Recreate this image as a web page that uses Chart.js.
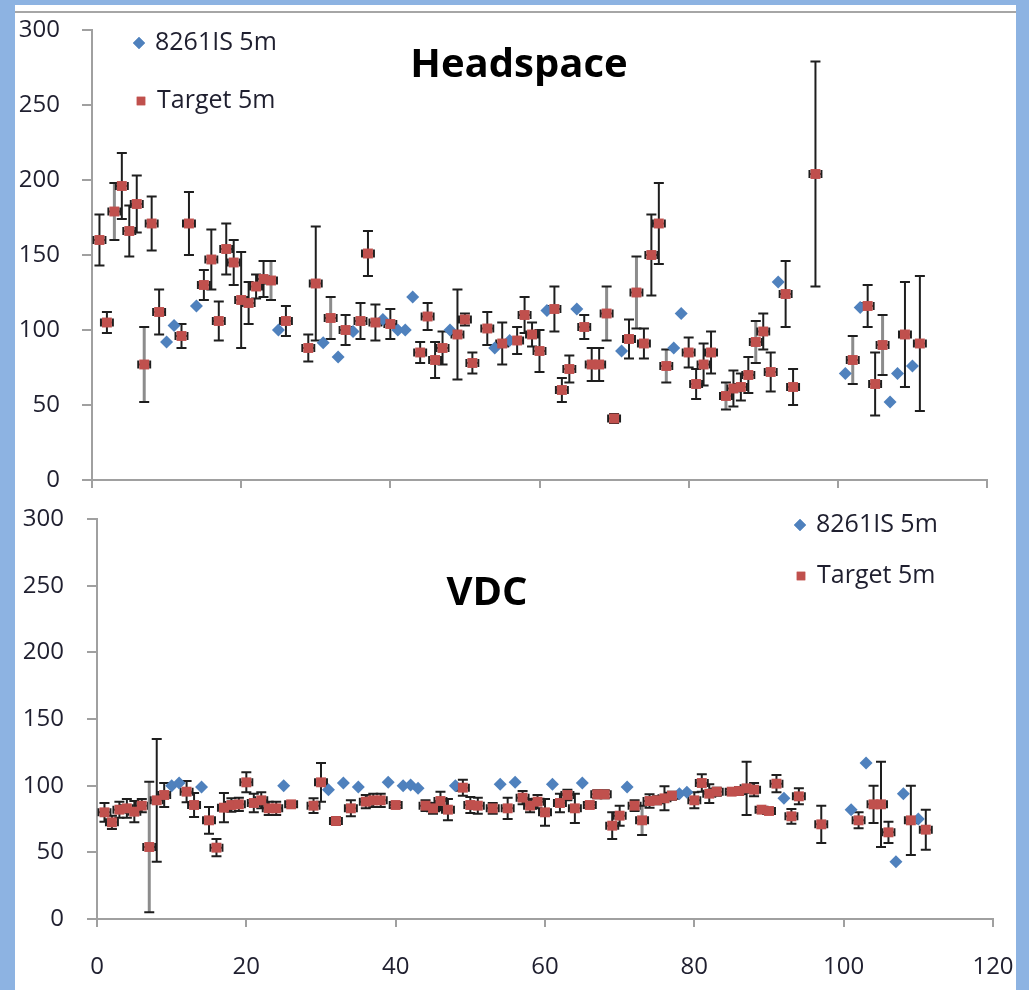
<!DOCTYPE html>
<html>
<head>
<meta charset="utf-8">
<script src="https://cdn.jsdelivr.net/npm/chart.js@4.4.0/dist/chart.umd.min.js"></script>
<style>
  html, body { margin: 0; padding: 0; background: #8db3e2; }
  #sheet { position: absolute; left: 15px; top: 5px; width: 1001px; height: 985px; background: #fff; }
  #rule { position: absolute; left: 15px; top: 11px; width: 1001px; height: 2px; background: #a6a6a6; }
  canvas { position: absolute; left: 0; }
</style>
</head>
<body>
<div id="sheet"></div>
<div id="rule"></div>
<canvas id="headspace" width="1029" height="500" style="top:0"></canvas>
<canvas id="vdc" width="1029" height="490" style="top:500px"></canvas>
<script>
// sample numbers (x) shared by both panels
const targetX = [1,2,3,4,5,6,7,8,9,12,13,15,16,17,18,19,20,21,22,23,24,26,29,30,32,34,36,37,38,40,
  44,45,46,47,49,50,51,53,55,57,58,59,60,62,63,64,66,67,68,69,70,72,73,74,75,76,77,80,81,82,83,
  85,86,87,88,89,90,91,93,94,97,102,104,105,106,109,111];
const isX = [10,11,14,25,31,33,35,39,41,42,43,48,54,56,61,65,71,78,79,92,101,103,107,108,110];

// Headspace
const hsTarget = [160,105,179,196,166,184,77,171,112,96,171,130,147,106,154,145,120,118,129,134,
  133,106,88,131,108,100,106,151,105,104,85,109,80,88,97,107,78,101,91,93,110,97,86,114,60,74,
  102,77,77,111,41,94,125,91,150,171,76,85,64,77,85,56,61,62,70,92,99,72,124,62,204,80,116,64,90,97,91];
const hsTargetErr = [17,7,19,22,17,19,25,18,15,8,21,10,20,13,17,15,32,14,8,12,13,10,9,38,14,10,12,
  15,12,10,7,9,12,11,30,4,7,11,14,9,12,8,14,15,8,9,8,11,11,18,3,13,24,10,27,27,11,10,10,14,14,9,
  12,9,12,14,12,13,22,12,75,16,14,21,20,35,45];
const hsIS = [92,103,116,100,91.5,82,99,107,100,100,122,100,88,93,113,114,86,88,111,132,71,115,52,71,76];

// VDC
const vdcTarget = [80,72.5,82,83,80.5,85,54,89,93,95.5,85.5,74,53.5,83.5,85.5,86,102.5,87,89,83,
  83,86,85,102.5,73.5,83,88,89,89,85.5,85,83,88.5,82,98.5,85.5,85,83,83,91,85,88,80,87,93,83,
  85.5,93.5,93.5,70,77.5,85,74,88.5,89,90.5,92.5,89,102,94,95.5,95.5,96,98,97,82,81,101.5,77,92,
  71,74,86,86,65,74,67];
const vdcTargetErr = [7,5,6,7,8,5,49,46,9,8,9,10,6.5,11,5,5,7.5,7,6,5,5,2,5.5,14.5,3,6,5,5,5,2,
  4,4,7,8,6,6,6,4,8,5,5,5,10,7,4,11,2,3,3,10,7.5,4,11,5,3,9,3,6,6.5,7,3,2,3,20,5,2,2,6.5,5.5,6,
  14,6,14,32,8,26,15];
const vdcIS = [100,102,99,100,97,102,99,102.5,100,100.5,98,100,101,102.5,101,102,99,94,95,90.5,82,117,43,94,75];

const xTicks = [0, 20, 40, 60, 80, 100, 120];
const yTicks = [0, 50, 100, 150, 200, 250, 300];

// samples whose vertical bar shows as the grey one
const hsGrey = [3,7,24,32,69,73,77,85,89,102,106];
const vdcGrey = [7,73];

const RED = '#c0504d';
const BLUE = '#4f81bd';
const AXIS = '#a0a0a0';
const FONT = "'Open Sans', sans-serif";

const errorBars = {
  id: 'errorBars',
  beforeDatasetsDraw(chart, args, opts) {
    const ctx = chart.ctx, xs = chart.scales.x, ys = chart.scales.y;
    chart.data.datasets.forEach(ds => {
      if (!ds.yErr) return;
      ds.data.forEach((p, i) => {
        const px = xs.getPixelForValue(p.x);
        const py = ys.getPixelForValue(p.y);
        const top = ys.getPixelForValue(p.y + ds.yErr[i]);
        const bot = ys.getPixelForValue(Math.max(0, p.y - ds.yErr[i]));
        const l = xs.getPixelForValue(p.x - opts.xErr);
        const r = xs.getPixelForValue(p.x + opts.xErr);
        ctx.save();
        // vertical shaft
        ctx.beginPath();
        ctx.strokeStyle = ds.greyAt.includes(p.x) ? '#8c8c8c' : '#1e1e1e';
        ctx.lineWidth = ds.greyAt.includes(p.x) ? 3 : 2;
        ctx.moveTo(px, top); ctx.lineTo(px, bot);
        ctx.stroke();
        ctx.beginPath();
        ctx.strokeStyle = '#1e1e1e';
        ctx.lineWidth = 2;
        ctx.moveTo(px - 5, top); ctx.lineTo(px + 5, top);
        ctx.moveTo(px - 5, bot); ctx.lineTo(px + 5, bot);
        // horizontal bar
        ctx.moveTo(l, py); ctx.lineTo(r, py);
        ctx.moveTo(l, py - 4); ctx.lineTo(l, py + 4);
        ctx.moveTo(r, py - 4); ctx.lineTo(r, py + 4);
        ctx.stroke();
        ctx.restore();
      });
    });
  }
};

const panelText = {
  id: 'panelText',
  afterDraw(chart, args, opts) {
    const ctx = chart.ctx;
    ctx.save();
    ctx.fillStyle = '#000';
    ctx.font = 'bold 40px ' + FONT;
    ctx.textAlign = 'center';
    ctx.textBaseline = 'alphabetic';
    ctx.fillText(opts.title, opts.titleX, opts.titleY);
    // legend
    ctx.font = '25px ' + FONT;
    ctx.textAlign = 'left';
    ctx.textBaseline = 'middle';
    opts.legend.forEach(item => {
      const ds = chart.data.datasets[item.index];
      ctx.fillStyle = ds.backgroundColor;
      Chart.helpers.drawPoint(ctx, { pointStyle: ds.pointStyle, radius: item.r, borderWidth: 0 }, item.x, item.y);
      ctx.fill();
      ctx.fillStyle = '#1f1f2f';
      ctx.fillText(ds.label, item.x + 16, item.y);
    });
    ctx.restore();
  }
};

function makePanel(id, isY, targetY, targetErr, greyAt, geo) {
  return new Chart(document.getElementById(id), {
    type: 'scatter',
    data: {
      datasets: [
        {
          label: '8261IS 5m',
          data: isX.map((x, i) => ({ x: x, y: isY[i] })),
          pointStyle: 'rectRot',
          pointRadius: 6.5,
          backgroundColor: BLUE,
          borderWidth: 0,
          order: 1
        },
        {
          label: 'Target 5m',
          data: targetX.map((x, i) => ({ x: x, y: targetY[i] })),
          yErr: targetErr,
          greyAt: greyAt,
          pointStyle: 'rect',
          pointRadius: 7,
          backgroundColor: RED,
          borderWidth: 0,
          order: 0
        }
      ]
    },
    options: {
      responsive: false,
      animation: false,
      events: [],
      layout: { padding: { left: 0, right: geo.padRight, top: geo.padTop, bottom: 0 } },
      plugins: {
        legend: { display: false },
        tooltip: { enabled: false },
        errorBars: { xErr: 0.8 },
        panelText: geo.text
      },
      scales: {
        x: {
          type: 'linear',
          min: 0, max: 120,
          afterBuildTicks: s => { s.ticks = xTicks.map(v => ({ value: v })); },
          afterFit: s => { s.height = geo.xHeight; s.paddingLeft = 0; s.paddingRight = 0; },
          grid: { drawOnChartArea: false, drawTicks: true, tickLength: 8, color: AXIS, lineWidth: 2 },
          border: { color: AXIS, width: 2 },
          ticks: { display: geo.xLabels, padding: 26, color: '#1f1f2f', font: { family: FONT, size: 24 } }
        },
        y: {
          min: 0, max: 300,
          afterBuildTicks: s => { s.ticks = yTicks.map(v => ({ value: v })); },
          afterFit: s => { s.width = geo.yWidth; s.paddingTop = 0; s.paddingBottom = 0; },
          grid: { drawOnChartArea: false, drawTicks: true, tickLength: 10, color: AXIS, lineWidth: 2 },
          border: { color: AXIS, width: 2 },
          ticks: { padding: geo.yPad, color: '#1f1f2f', font: { family: FONT, size: 24 } }
        }
      }
    },
    plugins: [errorBars, panelText]
  });
}

makePanel('headspace', hsIS, hsTarget, hsTargetErr, hsGrey, {
  padRight: 42, padTop: 30, xHeight: 20, yWidth: 92, yPad: 22, xLabels: false,
  text: {
    title: 'Headspace', titleX: 519, titleY: 77,
    legend: [{ index: 0, x: 139, y: 43, r: 6 }, { index: 1, x: 141, y: 101, r: 6 }]
  }
});

makePanel('vdc', vdcIS, vdcTarget, vdcTargetErr, vdcGrey, {
  padRight: 36, padTop: 19, xHeight: 71, yWidth: 97, yPad: 23, xLabels: true,
  text: {
    title: 'VDC', titleX: 487, titleY: 105,
    legend: [{ index: 0, x: 800, y: 25, r: 6 }, { index: 1, x: 801, y: 76, r: 6 }]
  }
});
</script>
</body>
</html>
